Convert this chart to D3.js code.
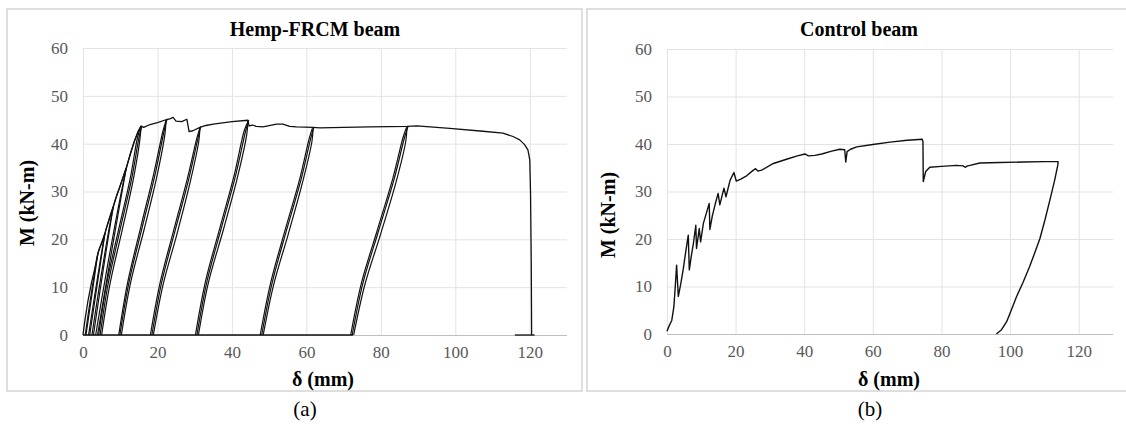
<!DOCTYPE html>
<html>
<head>
<meta charset="utf-8">
<script src="https://cdn.jsdelivr.net/npm/d3@7"></script>
<style>
body { margin: 0; background: #fff; }
svg text { font-family: "Liberation Serif", "Times New Roman", serif; }
</style>
</head>
<body>
<svg id="chart"></svg>
<script>
// tick labels
var xTicks = [0, 20, 40, 60, 80, 100, 120];
var yTicks = [0, 10, 20, 30, 40, 50, 60];

// Hemp-FRCM beam: outer curve [delta mm, M kN-m]
var hempEnvelope = [[0,0],[0.5,3],[1.3,7],[2.3,11],[3.2,14],[4.0,17.1],[5.0,19.3],[5.9,21.3],[7.0,24.2],[8.1,26.8],
  [9.0,29],[9.9,31],[11.6,34.9],[12.8,38],[13.8,40.5],[14.8,42.6],[15.6,43.7],[16.3,43.4],[18,44.0],[20,44.4],
  [22.3,45.0],[23.3,45.2],[24.2,45.5],[25.0,44.7],[26.5,44.6],[27.9,45.1],[28.5,42.5],[29.5,42.7],[31.4,43.4],
  [33,43.8],[35,44.1],[40,44.6],[44.3,44.9],[44.6,43.7],[45.6,43.9],[46.5,43.6],[48.3,43.5],[52,44.1],[53.7,44.1],
  [55.5,43.6],[57.4,43.5],[61.8,43.4],[63.6,43.3],[70,43.4],[77,43.5],[87,43.6],[89.7,43.7],[98.5,43.2],
  [107.4,42.6],[112.8,42.2],[115.5,41.5],[117.3,40.8],[118.6,39.8],[119.5,38.7],[120.0,36.6],[120.2,30],[120.4,15],[120.5,0]];

// unloading branches, one per cycle
var hempUnload = [
  [[4.0,17.1],[2.5,9],[0.8,0]],
  [[5.9,21.3],[3.9,11],[1.8,0]],
  [[8.1,26.8],[5.5,14],[2.8,0]],
  [[11.6,34.9],[7.8,18],[3.9,0]],
  [[15.6,43.7],[15.3,41],[13.5,32.5],[10.4,21.5],[7.2,10.5],[5.0,0]],
  [[22.3,45],[22.0,42],[19.8,33],[16.4,22],[12.8,11],[10.3,0]],
  [[31.4,43.4],[31.1,40.5],[28.8,32],[25.2,21],[21.5,10.5],[18.9,0]],
  [[44.3,44.9],[44.0,42],[41.5,33],[37.7,22],[33.7,11],[31.0,0]],
  [[61.8,43.4],[61.5,40.5],[59.0,32],[55.1,21],[51.2,10.5],[48.4,0]],
  [[87.0,43.6],[86.7,40.5],[84.1,32],[79.9,21],[75.7,10.5],[72.7,0]]
];

// first reloading branches
var hempReload = [
  [[0.6,0],[2.3,9],[4.2,17.6],[5.2,19.5],[5.9,21.3]],
  [[1.5,0],[3.7,11],[6.1,21.8],[7.2,24.5],[8.1,26.8]],
  [[2.4,0],[5.2,14],[8.3,27.2],[9.9,31],[11.6,34.9]],
  [[3.4,0],[7.4,18],[11.8,35.3],[13.8,40.5],[15.6,43.7]],
  [[4.6,0],[6.8,10.9],[9.9,21.8],[13.1,32.8],[15.1,41.5],[15.8,43.7]],
  [[9.9,0],[12.4,11.2],[15.9,22.5],[19.4,33.7],[21.8,42.7],[22.5,45.0]],
  [[18.5,0],[21.1,10.9],[24.7,21.7],[28.4,32.6],[30.9,41.2],[31.6,43.6]],
  [[30.6,0],[33.3,11.2],[37.2,22.5],[41.1,33.7],[43.7,42.7],[44.5,44.9]],
  [[48.0,0],[50.8,10.9],[54.6,21.7],[58.6,32.6],[61.2,41.2],[62.0,43.4]],
  [[72.3,0],[75.2,10.9],[79.4,21.8],[83.6,32.7],[86.4,41.4],[87.3,43.6]]
];

// repeated reloading branches of the larger cycles
var hempReload2 = [
  [[4.2,0],[6.4,10.9],[9.5,21.8],[12.7,32.8],[14.7,41.5],[15.5,43.4]],
  [[9.6,0],[12.0,11.0],[15.5,22.5],[19.0,33.7],[21.5,42.7],[22.3,44.8]],
  [[18.1,0],[20.7,10.9],[24.3,21.7],[28.0,32.6],[30.6,41.2],[31.4,43.3]],
  [[30.2,0],[32.9,11.2],[36.8,22.5],[40.7,33.7],[43.3,42.7],[44.3,44.6]],
  [[47.6,0],[50.4,10.9],[54.2,21.7],[58.2,32.6],[60.8,41.2],[61.6,43.2]],
  [[71.9,0],[74.8,10.9],[79.0,21.8],[83.2,32.7],[86.0,41.4],[86.9,43.4]]
];

// data lying on M = 0
var hempBase = [[[0,0],[72.5,0]], [[116,0],[121.3,0]]];

// Control beam [delta mm, M kN-m]
var controlCurve = [[0,0.6],[0.5,1.5],[1.4,2.9],[2.0,5.7],[2.5,11],[2.8,14.5],[3.3,7.9],[4.0,10.5],[4.7,13.5],
  [5.5,17.5],[6.2,20.8],[6.5,13.5],[7.1,16.5],[7.7,19.1],[8.4,22.9],[8.6,18.0],[9.4,22.2],[9.8,19.4],[10.6,23.3],
  [11.5,25.5],[12.3,27.5],[12.5,22.0],[13.2,24.8],[14.0,27.2],[14.9,29.6],[15.4,27.2],[16.6,30.7],[17.2,28.9],
  [18.4,32.4],[19.5,34.0],[20.2,32.2],[21.5,32.6],[23.2,33.3],[25.0,34.4],[25.8,34.8],[26.5,34.3],[27.6,34.5],
  [31,35.9],[35.3,36.9],[38,37.5],[40.2,37.9],[41.2,37.5],[43.1,37.6],[45.1,37.9],[48,38.5],[50.4,38.9],[51.8,38.8],
  [52.1,36.2],[52.5,38.4],[53.5,38.9],[55.3,39.4],[60,39.9],[65,40.4],[70,40.8],[74.4,41.0],[74.6,40.5],[74.7,32.1],
  [75.4,34.2],[76.6,35.1],[80,35.3],[84.4,35.5],[86.3,35.4],[86.9,35.1],[87.6,35.4],[88.3,35.5],[91.2,36.0],[97,36.1],
  [103.8,36.2],[110,36.3],[114.0,36.3],[113.9,35.5],[113,32.4],[111.6,28.2],[110.2,24.1],[108.7,20.1],[107.2,17.1],
  [105.7,14.2],[103.8,10.9],[101.9,7.9],[100.4,5.1],[99.0,2.6],[97.5,0.9],[96.0,0]];

var W = 1126, H = 424;
var svg = d3.select("#chart").attr("width", W).attr("height", H);

var panels = [
  {box: [7, 9, 582, 391], x0: 83, x1: 567, y0: 335, y1: 48, title: "Hemp-FRCM beam", titleX: 315,
   yLabX: 27, yLabY: 203, xLabX: 323, cap: "(a)", capX: 305},
  {box: [587, 9, 1135, 391], x0: 667, x1: 1113, y0: 334, y1: 49, title: "Control beam", titleX: 859,
   yLabX: 608, yLabY: 215, xLabX: 889, cap: "(b)", capX: 870}
];

var serif = "Liberation Serif, Times New Roman, serif";

function drawPanel(p) {
  var g = svg.append("g");
  g.append("rect")
    .attr("x", p.box[0]).attr("y", p.box[1])
    .attr("width", p.box[2] - p.box[0]).attr("height", p.box[3] - p.box[1])
    .attr("fill", "none").attr("stroke", "#d4d4d4").attr("stroke-width", 1.5);

  var x = d3.scaleLinear().domain([0, 130]).range([p.x0, p.x1]);
  var y = d3.scaleLinear().domain([0, 60]).range([p.y0, p.y1]);

  // vertical grid + x labels
  var xa = g.append("g").attr("transform", "translate(0," + p.y0 + ")")
    .call(d3.axisBottom(x).tickValues(xTicks).tickSize(-(p.y0 - p.y1)).tickPadding(11));
  xa.attr("font-family", serif).attr("font-size", 17);
  xa.select(".domain").remove();
  xa.selectAll("line").attr("stroke", "#e3e3e3");
  xa.selectAll("text").attr("fill", "#595959");

  // horizontal grid + y labels
  var ya = g.append("g").attr("transform", "translate(" + p.x0 + ",0)")
    .call(d3.axisLeft(y).tickValues(yTicks).tickSize(-(p.x1 - p.x0)).tickPadding(15));
  ya.attr("font-family", serif).attr("font-size", 17);
  ya.select(".domain").remove();
  ya.selectAll("line").attr("stroke", function(d) { return d === 0 ? "#bfbfbf" : "#e3e3e3"; });
  ya.selectAll("text").attr("fill", "#595959");

  g.append("text").attr("x", p.titleX).attr("y", 36).attr("text-anchor", "middle")
    .attr("font-size", 20).attr("font-weight", "bold").text(p.title);
  g.append("text").attr("transform", "translate(" + (p.yLabX + 7) + "," + p.yLabY + ") rotate(-90)")
    .attr("text-anchor", "middle").attr("font-size", 20).attr("font-weight", "bold").text("M (kN-m)");
  g.append("text").attr("x", p.xLabX).attr("y", 386).attr("text-anchor", "middle")
    .attr("font-size", 20).attr("font-weight", "bold").text("δ (mm)");
  svg.append("text").attr("x", p.capX).attr("y", 416).attr("text-anchor", "middle")
    .attr("font-size", 21).text(p.cap);

  return {g: g, x: x, y: y};
}

var a = drawPanel(panels[0]);
var b = drawPanel(panels[1]);

function addLine(ctx, data, curve, w) {
  var line = d3.line()
    .x(function(d) { return ctx.x(d[0]); })
    .y(function(d) { return ctx.y(d[1]); })
    .curve(curve);
  ctx.g.append("path").datum(data)
    .attr("d", line)
    .attr("fill", "none")
    .attr("stroke", "#111")
    .attr("stroke-width", w)
    .attr("stroke-linejoin", "round");
}

hempBase.forEach(function(s) { addLine(a, s, d3.curveLinear, 1.3); });
hempUnload.forEach(function(s) { addLine(a, s, d3.curveCatmullRom, 1.2); });
hempReload.forEach(function(s) { addLine(a, s, d3.curveCatmullRom, 1.2); });
hempReload2.forEach(function(s) { addLine(a, s, d3.curveCatmullRom, 1.2); });
addLine(a, hempEnvelope, d3.curveLinear, 1.3);

addLine(b, controlCurve, d3.curveLinear, 1.4);
</script>
</body>
</html>
